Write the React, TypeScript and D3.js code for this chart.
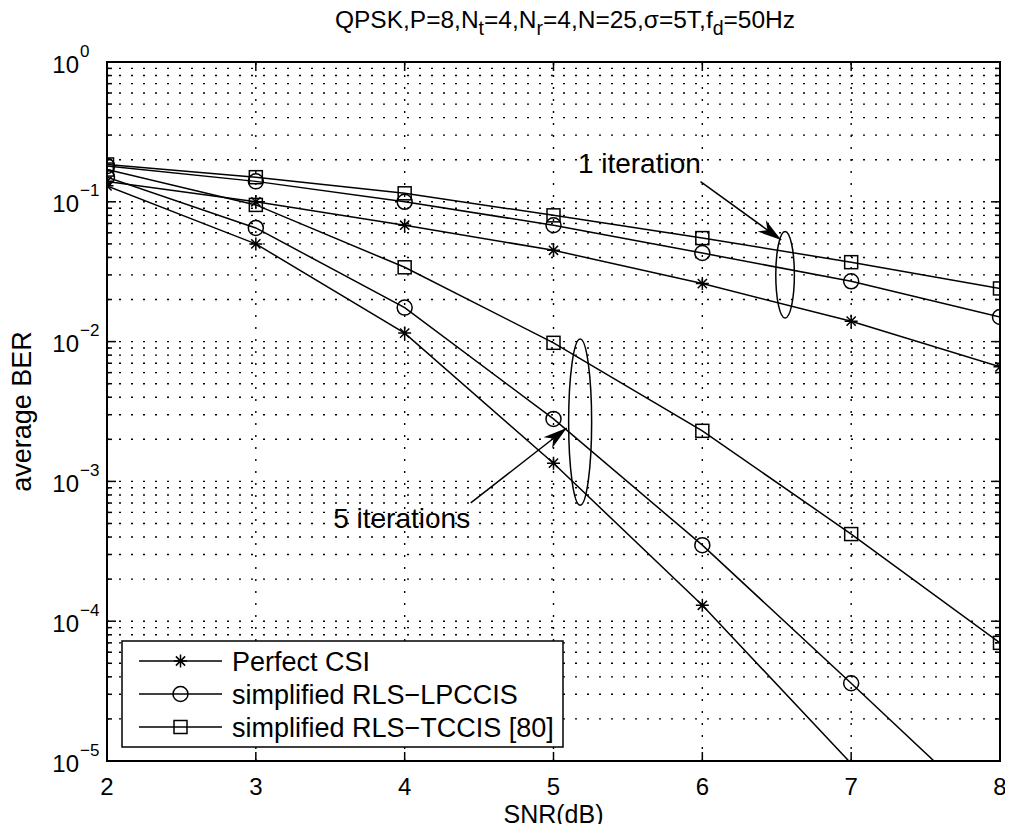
import React, { useRef, useEffect } from 'react';
import * as d3 from 'd3';

// SNR points (dB)
const snr = [2, 3, 4, 5, 6, 7, 8];

// BER curves
const perfect1 = [0.14, 0.1, 0.068, 0.045, 0.026, 0.014, 0.0066];
const lpccis1 = [0.18, 0.14, 0.1, 0.068, 0.043, 0.027, 0.015];
const tccis1 = [0.185, 0.15, 0.115, 0.08, 0.055, 0.037, 0.024];
const perfect5 = [0.13, 0.05, 0.0115, 0.00135, 1.3e-4, 9.6e-6];
const lpccis5 = [0.15, 0.065, 0.0175, 0.0028, 3.5e-4, 3.6e-5, 3.6e-6];
const tccis5 = [0.17, 0.095, 0.034, 0.0098, 0.0023, 4.2e-4, 7e-5];

const xTicks = [2, 3, 4, 5, 6, 7, 8];
const yExponents = [0, -1, -2, -3, -4, -5];

const legendNames = ['Perfect CSI', 'simplified RLS\u2212LPCCIS', 'simplified RLS\u2212TCCIS [80]'];

// annotation groups (data coords, log10 for y)
const ellipses = [
  { x: 6.556, top: -1.213, bottom: -1.832, rx: 9.3 },
  { x: 5.179, top: -1.982, bottom: -3.17, rx: 11.5 },
];
const arrows = [
  { x0: 5.988, y0: -0.856, x1: 6.53, y1: -1.273 },
  { x0: 4.444, y0: -3.154, x1: 5.089, y1: -2.618 },
];
const notes = [
  { text: '1 iteration', x: 5.99, y: -0.797 },
  { text: '5 iterations', x: 4.44, y: -3.33 },
];

const FONT = '"Liberation Sans", Arial, Helvetica, sans-serif';

const App = () => {
  const ref = useRef<SVGSVGElement>(null);

  useEffect(() => {
    const svg = d3.select(ref.current);
    svg.selectAll('*').remove();

    const left = 107, right = 1000, top = 62, bottom = 761;
    const x = d3.scaleLinear().domain([2, 8]).range([left, right]);
    const y = d3.scaleLog().domain([1e-5, 1]).range([bottom, top]);

    svg.append('rect').attr('width', 1013).attr('height', 832).attr('fill', '#fff');

    svg.append('defs').append('clipPath').attr('id', 'plotclip')
      .append('rect').attr('x', left).attr('y', top)
      .attr('width', right - left).attr('height', bottom - top);

    // grid
    const grid = svg.append('g').attr('stroke', '#000').attr('stroke-width', 1.4)
      .attr('stroke-dasharray', '2,10');
    const minor: number[] = [];
    for (let e = -5; e < 0; e++) {
      for (let k = 1; k <= 9; k++) minor.push(k * Math.pow(10, e));
    }
    grid.selectAll('.hg').data(minor.filter(v => v > 1e-5)).enter().append('line')
      .attr('x1', left).attr('x2', right)
      .attr('y1', d => y(d)).attr('y2', d => y(d));
    grid.selectAll('.vg').data(xTicks.slice(1, -1)).enter().append('line')
      .attr('x1', d => x(d)).attr('x2', d => x(d))
      .attr('y1', bottom).attr('y2', top);

    // ticks
    const ticks = svg.append('g').attr('stroke', '#000').attr('stroke-width', 1.5);
    minor.concat([1]).forEach(v => {
      const major = Math.abs(Math.log10(v) - Math.round(Math.log10(v))) < 1e-9;
      const len = major ? 9 : 5;
      ticks.append('line').attr('x1', left).attr('x2', left + len).attr('y1', y(v)).attr('y2', y(v));
      ticks.append('line').attr('x1', right).attr('x2', right - len).attr('y1', y(v)).attr('y2', y(v));
    });
    xTicks.forEach(v => {
      ticks.append('line').attr('x1', x(v)).attr('x2', x(v)).attr('y1', bottom).attr('y2', bottom - 9);
      ticks.append('line').attr('x1', x(v)).attr('x2', x(v)).attr('y1', top).attr('y2', top + 9);
    });

    // curves
    const line = d3.line<[number, number]>().x(d => x(d[0])).y(d => y(d[1]));
    const plot = svg.append('g').attr('clip-path', 'url(#plotclip)');
    const series = [
      { v: perfect1, m: 'star' }, { v: lpccis1, m: 'circle' }, { v: tccis1, m: 'square' },
      { v: perfect5, m: 'star' }, { v: lpccis5, m: 'circle' }, { v: tccis5, m: 'square' },
    ];

    const drawMarker = (g: any, cx: number, cy: number, m: string) => {
      if (m === 'circle') {
        g.append('circle').attr('cx', cx).attr('cy', cy).attr('r', 7.5)
          .attr('fill', 'none').attr('stroke', '#000').attr('stroke-width', 1.5);
      } else if (m === 'square') {
        g.append('rect').attr('x', cx - 6.5).attr('y', cy - 6.5).attr('width', 13).attr('height', 13)
          .attr('fill', 'none').attr('stroke', '#000').attr('stroke-width', 1.5);
      } else {
        const r = 6.5, q = r * Math.SQRT1_2;
        g.append('path')
          .attr('d', `M${cx - r},${cy}H${cx + r}M${cx},${cy - r}V${cy + r}M${cx - q},${cy - q}L${cx + q},${cy + q}M${cx - q},${cy + q}L${cx + q},${cy - q}`)
          .attr('stroke', '#000').attr('stroke-width', 1.5).attr('fill', 'none');
      }
    };

    series.forEach(s => {
      const pts = s.v.map((v, i) => [snr[i], v] as [number, number]);
      plot.append('path').attr('d', line(pts)).attr('fill', 'none')
        .attr('stroke', '#000').attr('stroke-width', 1.5);
      pts.filter(p => p[1] >= 1e-5).forEach(p => drawMarker(plot, x(p[0]), y(p[1]), s.m));
    });

    // annotations
    const ann = svg.append('g');
    ellipses.forEach(e => {
      const y0 = y(Math.pow(10, e.top)), y1 = y(Math.pow(10, e.bottom));
      ann.append('ellipse').attr('cx', x(e.x)).attr('cy', (y0 + y1) / 2)
        .attr('rx', e.rx).attr('ry', (y1 - y0) / 2)
        .attr('fill', 'none').attr('stroke', '#000').attr('stroke-width', 1.5);
    });
    arrows.forEach(a => {
      const sx = x(a.x0), sy = y(Math.pow(10, a.y0));
      const ex = x(a.x1), ey = y(Math.pow(10, a.y1));
      const ang = Math.atan2(ey - sy, ex - sx) * 180 / Math.PI;
      ann.append('line').attr('x1', sx).attr('y1', sy).attr('x2', ex).attr('y2', ey)
        .attr('stroke', '#000').attr('stroke-width', 1.5);
      ann.append('path').attr('d', 'M0,0L-24,-7L-17,0L-24,7Z')
        .attr('transform', `translate(${ex},${ey}) rotate(${ang})`).attr('fill', '#000');
    });
    notes.forEach(n => {
      ann.append('text').attr('x', x(n.x)).attr('y', y(Math.pow(10, n.y)))
        .attr('text-anchor', 'end').attr('font-family', FONT).attr('font-size', 28)
        .text(n.text);
    });

    // legend
    const lg = svg.append('g');
    lg.append('rect').attr('x', 122).attr('y', 641).attr('width', 441).attr('height', 106)
      .attr('fill', '#fff').attr('stroke', '#000').attr('stroke-width', 1.5);
    ['star', 'circle', 'square'].forEach((m, i) => {
      const ry = 661 + i * 33;
      lg.append('line').attr('x1', 139).attr('x2', 222).attr('y1', ry).attr('y2', ry)
        .attr('stroke', '#000').attr('stroke-width', 1.5);
      drawMarker(lg, 180.5, ry, m);
      lg.append('text').attr('x', 232).attr('y', ry + 9.5).attr('font-family', FONT)
        .attr('font-size', 27).text(legendNames[i]);
    });

    // box
    svg.append('rect').attr('x', left).attr('y', top).attr('width', right - left)
      .attr('height', bottom - top).attr('fill', 'none').attr('stroke', '#000').attr('stroke-width', 2);

    // tick labels
    const tl = svg.append('g').attr('font-family', FONT).attr('fill', '#000');
    xTicks.forEach(v => {
      tl.append('text').attr('x', x(v)).attr('y', bottom + 34).attr('text-anchor', 'middle')
        .attr('font-size', 24).text(v);
    });
    yExponents.forEach(e => {
      const ty = y(Math.pow(10, e));
      tl.append('text').attr('x', 79).attr('y', ty + 10.5).attr('text-anchor', 'end')
        .attr('font-size', 24).text('10');
      tl.append('text').attr('x', 80).attr('y', ty - 5.5).attr('font-size', 17)
        .text(e === 0 ? '0' : `\u2212${-e}`);
    });

    // axis labels
    tl.append('text').attr('x', (left + right) / 2).attr('y', 823).attr('text-anchor', 'middle')
      .attr('font-size', 25).text('SNR(dB)');
    tl.append('text').attr('transform', `translate(31,${(top + bottom) / 2}) rotate(-90)`)
      .attr('text-anchor', 'middle').attr('font-size', 27).text('average BER');

    // title with subscripts
    const title = tl.append('text').attr('x', 565).attr('y', 28)
      .attr('text-anchor', 'middle').attr('font-size', 24.5);
    const parts: [string, boolean][] = [
      ['QPSK,P=8,N', false], ['t', true], ['=4,N', false], ['r', true],
      ['=4,N=25,\u03c3=5T,f', false], ['d', true], ['=50Hz', false],
    ];
    parts.forEach(([t, sub], i) => {
      const prevSub = i > 0 && parts[i - 1][1];
      title.append('tspan').attr('font-size', sub ? 19.5 : 24.5)
        .attr('dy', sub ? 7 : prevSub ? -7 : 0).text(t);
    });
  }, []);

  return <svg ref={ref} width={1013} height={832} style={{ display: 'block', margin: '-8px' }} />;
};

export default App;
